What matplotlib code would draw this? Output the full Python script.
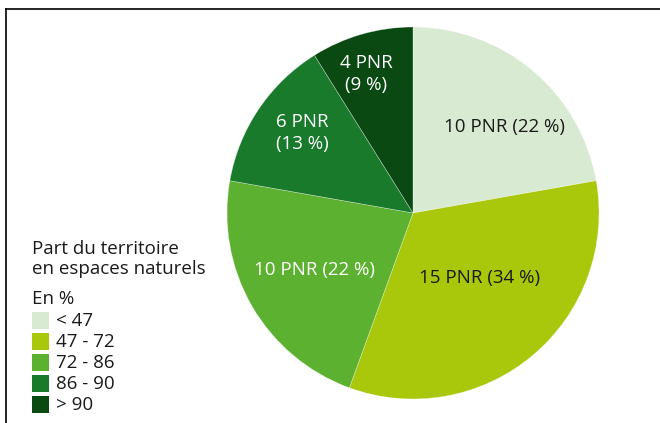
import matplotlib.pyplot as plt
from matplotlib.patches import Rectangle
from matplotlib.lines import Line2D

plt.rcParams['font.family'] = ['Open Sans', 'DejaVu Sans']

# PNR counts per class of natural area share
counts = [10, 15, 10, 6, 4]
shares = [22, 34, 22, 13, 9]
classes = ["< 47", "47 - 72", "72 - 86", "86 - 90", "> 90"]
colors = ["#d9ead2", "#a9c80c", "#5db130", "#197a2c", "#0a4a12"]
text_colors = ["#1a1a1a", "#1a1a1a", "white", "white", "white"]

fig = plt.figure(figsize=(6.6, 4.23), dpi=100)

# pie axes: centre ~ (413, 213) px, radius ~186 px
W, H = 660, 423
cx, cy, r = 413, 213, 186
ax = fig.add_axes([(cx - r) / W, 1 - (cy + r) / H, 2 * r / W, 2 * r / H])
wedges, _ = ax.pie(counts, colors=colors, startangle=90, counterclock=False,
                   radius=1, wedgeprops=dict(linewidth=0.4, edgecolor=(1, 1, 1, 0.5)))
ax.set_xlim(-1, 1)
ax.set_ylim(-1, 1)
ax.set_aspect('equal')
ax.axis('off')

labels = []
for c, s in zip(counts, shares):
    labels.append(f"{c} PNR ({s} %)")
labels[3] = labels[3].replace(" (", "\n(")
labels[4] = labels[4].replace(" (", "\n(")

fs = 13.5
# label positions in pixels
pos = [(504, 127), (480, 278), (314, 270), (302, 133), (366, 74)]
for (px, py), lab, tc in zip(pos, labels, text_colors):
    fig.text(px / W, 1 - py / H, lab, ha='center', va='center',
             fontsize=fs, color=tc, linespacing=1.32)

# legend
fig.text(32 / W, 1 - 259 / H, "Part du territoire\nen espaces naturels",
         ha='left', va='center', fontsize=fs, color='#1a1a1a', linespacing=1.2)
fig.text(32 / W, 1 - 299 / H, "En %", ha='left', va='center',
         fontsize=fs, color='#1a1a1a')
for i, (lab, col) in enumerate(zip(classes, colors)):
    y = 320.5 + i * 21
    fig.patches.append(Rectangle((32 / W, 1 - (y + 8.5) / H), 17 / W, 17 / H,
                                 transform=fig.transFigure, facecolor=col,
                                 edgecolor='none'))
    fig.text(56 / W, 1 - y / H, lab, ha='left', va='center',
             fontsize=fs, color='#1a1a1a')

# frame lines (top and left)
fig.lines.append(Line2D([6 / W, 1], [1 - 9 / H, 1 - 9 / H], transform=fig.transFigure,
                        color='black', linewidth=1.2))
fig.lines.append(Line2D([6 / W, 6 / W], [0, 1 - 9 / H], transform=fig.transFigure,
                        color='black', linewidth=1.2))

fig.savefig("out.png", dpi=100)
